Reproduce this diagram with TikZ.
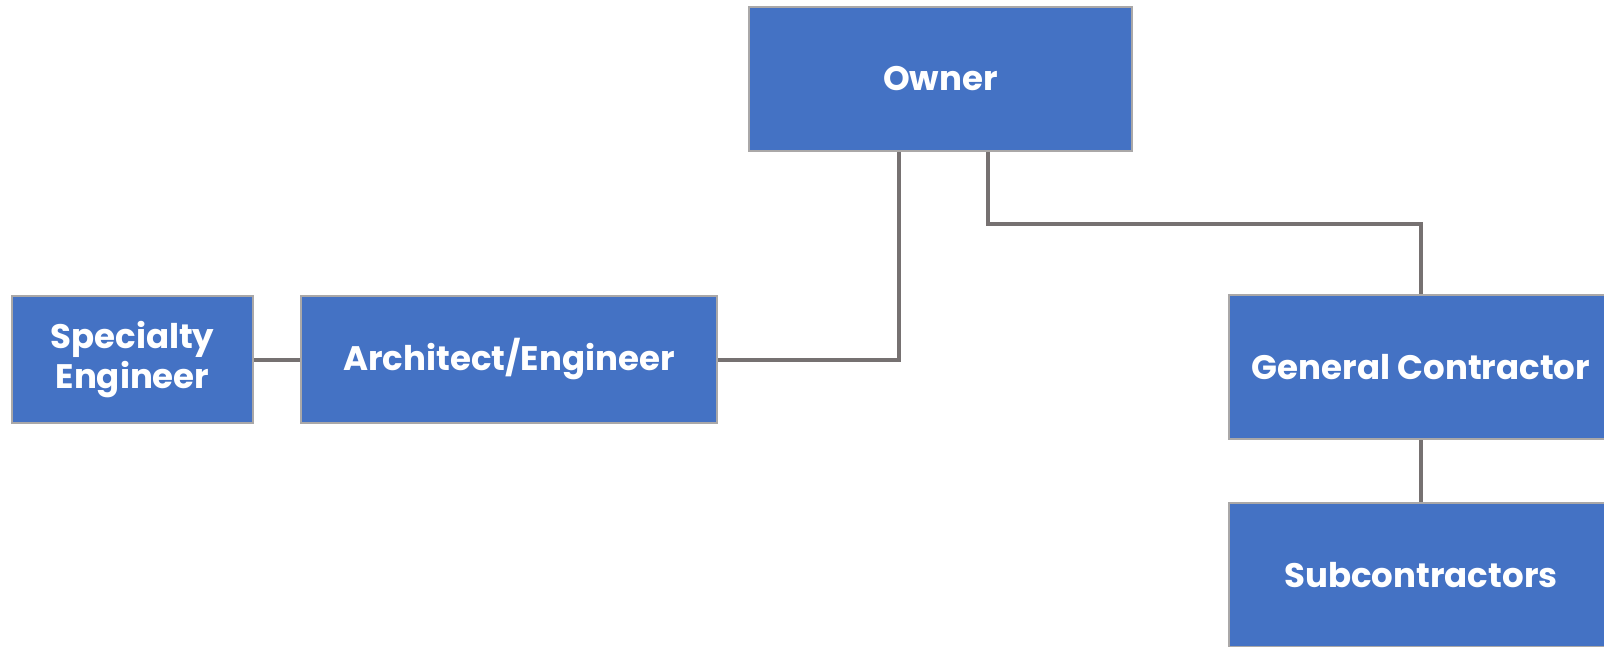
\documentclass[tikz,border=0pt]{standalone}
\usepackage{fontspec}
\setmainfont{Poppins}
\definecolor{boxblue}{RGB}{68,114,196}
\definecolor{boxedge}{RGB}{170,168,168}
\definecolor{linkgray}{RGB}{118,113,113}
\begin{document}
\begin{tikzpicture}[x=1pt,y=-1pt,
    org/.style={draw=boxedge, line width=2.5pt, fill=boxblue, text=white,
        font=\fontsize{34}{40}\selectfont\bfseries, align=center,
        inner sep=0pt, minimum height=144pt},
    link/.style={draw=linkgray, line width=4pt}]

\useasboundingbox (0,0) rectangle (1604,646);

% Boxes
\node[org, minimum width=383pt] (owner) at (940.5,79) {Owner};
\node[org, minimum width=241pt, minimum height=127pt] (spec) at (132.5,359.5) {Specialty\\Engineer};
\node[org, minimum width=416pt, minimum height=127pt] (arch) at (509,359.5) {Architect/Engineer};
\node[org, minimum width=384pt] (gc) at (1421,367) {General Contractor};
\node[org, minimum width=384pt] (sub) at (1421,575) {Subcontractors};

% Links
\draw[link] ([xshift=-41.5pt]owner.south) |- (arch.east);
\draw[link] ([xshift=47.5pt]owner.south) -- ++(0,72) -| (gc.north);
\draw[link] (spec.east) -- (arch.west);
\draw[link] (gc.south) -- (sub.north);

\end{tikzpicture}
\end{document}
